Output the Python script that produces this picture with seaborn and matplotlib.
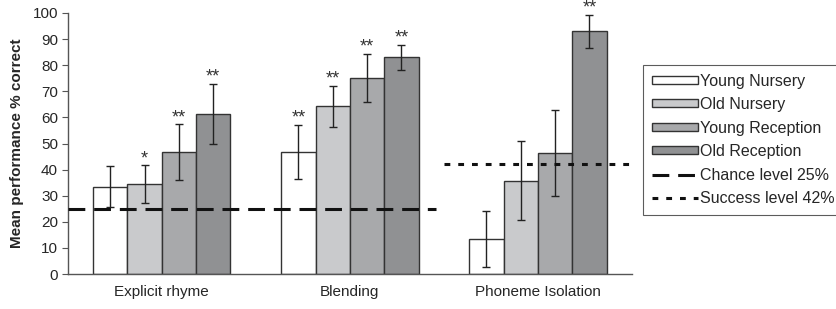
import pandas as pd
import numpy as np
import matplotlib
matplotlib.use("Agg")
import matplotlib.pyplot as plt
import seaborn as sns
from matplotlib.patches import Patch
from matplotlib.lines import Line2D

tasks = ["Explicit rhyme", "Blending", "Phoneme Isolation"]
groups = ["Young Nursery", "Old Nursery", "Young Reception", "Old Reception"]
means = {
    "Young Nursery": [33.5, 46.8, 13.5],
    "Old Nursery": [34.4, 64.2, 35.8],
    "Young Reception": [46.7, 75.2, 46.3],
    "Old Reception": [61.4, 83.0, 93.0],
}
errs = {
    "Young Nursery": [7.8, 10.3, 10.8],
    "Old Nursery": [7.2, 8.0, 15.1],
    "Young Reception": [10.6, 9.2, 16.5],
    "Old Reception": [11.5, 4.8, 6.4],
}
stars = {
    "Young Nursery": ["", "**", ""],
    "Old Nursery": ["*", "**", ""],
    "Young Reception": ["**", "**", ""],
    "Old Reception": ["**", "**", "**"],
}
chance = 25
success = 42

rows = []
for g in groups:
    for i, t in enumerate(tasks):
        rows.append({"task": t, "group": g, "value": means[g][i]})
df = pd.DataFrame(rows)

sns.set_style("white")
plt.rcParams["font.family"] = ["Liberation Sans", "DejaVu Sans"]

fig = plt.figure(figsize=(8.36, 3.09), dpi=100)
ax = fig.add_axes([0.081, 0.113, 0.675, 0.845])

colors = ["#ffffff", "#c9cacc", "#a8a9ab", "#909193"]
sns.barplot(data=df, x="task", y="value", hue="group", order=tasks,
            hue_order=groups, palette=colors, width=0.73, errorbar=None,
            edgecolor="#333333", linewidth=1.0, saturation=1, legend=False, ax=ax)

# error bars + stars using bar positions from seaborn
for gi, g in enumerate(groups):
    cont = ax.containers[gi]
    for i, bar in enumerate(cont):
        cx = bar.get_x() + bar.get_width() / 2
        h = bar.get_height()
        ax.errorbar(cx, h, yerr=errs[g][i], fmt="none", ecolor="#222222",
                    elinewidth=1.0, capsize=3, capthick=1.0, zorder=5)
        if stars[g][i]:
            ax.text(cx, h + errs[g][i] + 0.8, stars[g][i], ha="center", va="baseline",
                    fontsize=13, color="#333333", clip_on=False)

ax.plot([-0.5, 1.46], [chance, chance], color="#111111", lw=2.2,
        dashes=(5.5, 2.9), zorder=6)
ax.plot([1.5, 2.5], [success, success], color="#111111", lw=2.2,
        dashes=(1.9, 2.6), zorder=6)

ax.set_xlim(-0.5, 2.5)
ax.set_ylim(0, 100)
ax.set_yticks(range(0, 101, 10))
ax.set_xticks([0, 1, 2])
ax.set_xticks([-0.5, 0.5, 1.5, 2.5], minor=True)
ax.tick_params(axis="x", which="major", length=0, labelsize=11, pad=8)
ax.tick_params(axis="x", which="minor", length=4, direction="out", color="#555555")
ax.tick_params(axis="y", length=4, direction="out", labelsize=11, color="#555555",
               left=True, pad=3)
ax.set_xlabel("")
ax.set_ylabel("Mean performance % correct", fontsize=11, fontweight="bold", labelpad=6)
sns.despine(ax=ax)
for s in ["left", "bottom"]:
    ax.spines[s].set_color("#555555")
    ax.spines[s].set_linewidth(1.0)

handles = [Patch(facecolor=c, edgecolor="#333333", linewidth=1.0) for c in colors]
handles += [Line2D([0], [0], color="#111111", lw=2.2, dashes=(5.5, 2.9)),
            Line2D([0], [0], color="#111111", lw=2.2, dashes=(1.9, 2.6))]
labels = groups + ["Chance level 25%", "Success level 42%"]
leg = fig.legend(handles, labels, loc="upper left", bbox_to_anchor=(0.769, 0.79),
                 frameon=True, fancybox=False, fontsize=11.5, handlelength=2.9,
                 handleheight=0.4, labelspacing=0.53, borderpad=0.55,
                 handletextpad=0.15, borderaxespad=0)
leg.get_frame().set_edgecolor("#333333")
leg.get_frame().set_linewidth(0.8)

fig.savefig("out.png", dpi=100)
